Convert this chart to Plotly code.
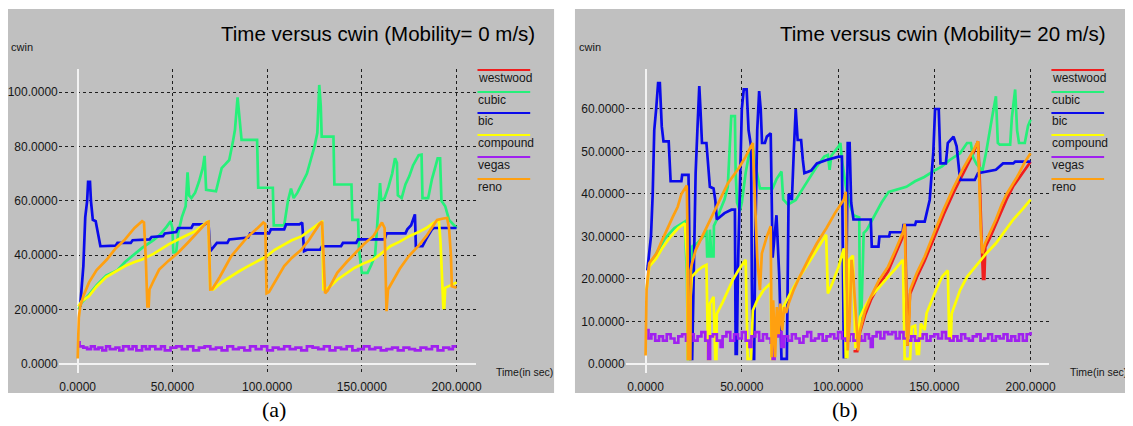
import plotly.graph_objects as go

# The page body has an 8px margin, so the figure is sized to fill the rest of the window
OFF = 8
FW, FH = 1133 - OFF, 426 - OFF

# ---------------- data (time [s], cwin) ----------------
SERIES_NAMES = ["westwood", "cubic", "bic", "compound", "vegas", "reno"]
SERIES_COLORS = ["#f01e1e", "#26f07a", "#0a0aeb", "#ffff00", "#a020f0", "#ffa010"]

A_X_TICKS = [0, 50, 100, 150, 200]
A_Y_TICKS = [0, 20, 40, 60, 80, 100]
B_X_TICKS = [0, 50, 100, 150, 200]
B_Y_TICKS = [0, 10, 20, 30, 40, 50, 60]

# Panel (a): Mobility = 0 m/s
a_cubic = [(0.5, 20), (2, 22.5), (6, 25.5), (10, 29), (15, 32.5), (21, 34.5), (25, 37.5), (30, 40.5),
           (34, 42.7), (40, 45.5), (43.5, 47.6), (47, 50.5), (49, 52.5), (50, 50), (50.5, 41), (52, 41),
           (53, 48), (55, 54), (57, 58), (58, 70.5), (58.8, 62), (60, 61), (62, 63), (64, 67), (66, 72),
           (67, 76.5), (67.8, 64), (73, 63.5), (74, 66), (76, 72), (78, 73.5), (80, 75), (82, 82), (83, 86),
           (84.4, 98), (85.5, 90), (86.5, 82.4), (94.7, 82.4), (95.3, 64.8), (103, 64.8), (103.5, 51),
           (109, 51), (110, 56), (111, 60), (112.6, 64.5), (114, 61), (116, 63), (118, 66), (121, 70),
           (123, 75), (125, 80), (126.5, 85), (127.5, 102.6), (128.3, 95), (128.8, 83.6), (135, 83.6),
           (135.5, 66), (144.5, 66), (145, 53), (148, 53), (148.5, 42), (150, 33.5), (153, 33.5),
           (155, 36.5), (157, 40), (158, 50), (158.8, 60), (159.6, 66.5), (160.2, 60), (162, 61),
           (164, 65), (166, 70), (167.5, 75.6), (168.5, 74), (169, 62), (171, 61), (173, 66), (175, 69),
           (177, 73), (180, 76.8), (181.5, 77), (182, 61), (185, 61), (187, 68), (189, 73), (190, 75.6),
           (191.3, 75.6), (192, 60), (194, 58), (196, 53), (200, 50)]
a_bic = [(1.3, 21), (3, 36), (4, 54), (5, 60), (5.5, 67), (6.5, 67), (7, 60), (8, 53), (9.5, 52.5),
         (11, 47), (12, 43.3), (20, 43.5), (21, 44.5), (28, 44.5), (29, 45.5), (38, 45.8), (39, 46.7),
         (45, 47), (46, 48), (52, 48.5), (53, 50), (60, 50), (61, 51.3), (67, 51.3), (69, 52), (70, 41.5),
         (72, 43), (73.5, 44.5), (79, 44.5), (80, 45.8), (90, 46.5), (91, 48), (101, 48), (102, 49.5),
         (109, 49.5), (110, 51.3), (117, 51.3), (118.5, 52), (119.5, 41.5), (121, 42), (128, 42),
         (129, 43.3), (139, 43.3), (140, 44.5), (147, 44.5), (148, 45.8), (162, 45.8), (163, 48),
         (173, 48), (174, 49.5), (176, 51), (178, 55), (178.5, 43.3), (182, 43.3), (184, 46),
         (187, 49.5), (188, 50), (200, 50)]
a_compound = [(0.4, 21.2), (2, 23), (6, 25), (10, 28.5), (15, 32), (20, 34), (25, 36), (30, 37.5),
              (34, 38.4), (40, 40.5), (43.5, 42), (48, 44), (53, 45.8), (58, 47.5), (62, 48.8), (66, 51),
              (68, 52), (69, 52.5), (70, 27.4), (71.6, 27.4), (76, 30), (81, 32.3), (85, 34), (90, 36),
              (95, 38), (99.7, 39.6), (104, 42), (109, 44), (113, 45.5), (118.4, 47), (123, 49.5),
              (128, 52), (129, 52.3), (129.7, 27.4), (131, 27.4), (134, 29), (137, 31), (141, 33),
              (146, 35.3), (151, 37), (156, 38.4), (160, 40.5), (165, 43.3), (170, 45), (175, 47),
              (180, 48.5), (184, 50), (188, 52), (190.6, 53), (191.5, 45), (192.5, 25), (193, 20.6),
              (193.5, 20.6), (194, 28), (197, 29), (200, 30)]
a_vegas = [(0.5, 8), (1, 6.5), (3, 6), (5, 5.5), (7, 6.5), (9, 5.5), (11, 6), (13, 5), (15, 6.5),
           (17, 5.5), (20, 6), (22, 5), (24, 6.5), (27, 5.5), (29, 6.5), (31, 5), (34, 6.5), (36, 5.5),
           (38, 6.5), (41, 5.5), (44, 6.5), (46, 5), (49, 6), (52, 6.5), (55, 5.5), (58, 6.5), (61, 5),
           (64, 6), (67, 6.5), (70, 5.5), (73, 6), (76, 5), (79, 6.5), (82, 5.5), (85, 6), (88, 5),
           (91, 6.5), (94, 5.5), (97, 6.5), (100, 5), (103, 6), (106, 5.5), (109, 6.5), (112, 5.5),
           (115, 6), (118, 5), (121, 6.5), (124, 6), (127, 5.5), (130, 6.5), (133, 5), (136, 6),
           (139, 5.5), (142, 6.5), (145, 5), (148, 5.5), (151, 6.5), (154, 5.5), (157, 6), (160, 5),
           (163, 5.5), (166, 6), (169, 5), (172, 6), (175, 5.5), (178, 5), (181, 6), (184, 5.5),
           (187, 6.5), (190, 5), (193, 6), (196, 5.5), (198, 6.5), (200, 6.5)]
a_reno = [(0, 2), (0.6, 17), (1.3, 21), (3, 25), (6, 30), (10, 34.5), (15.4, 38.4), (20, 42.5),
          (25, 45.8), (30, 50), (34, 52.5), (35, 52), (36, 38), (36.8, 21.2), (37.5, 21.2), (37.9, 27.4),
          (40, 30.5), (43, 34.7), (48, 38), (53, 40.9), (58, 44.5), (62, 47.6), (65, 50), (68, 52),
          (69, 52.3), (70, 27.4), (71, 27.5), (75, 32), (81, 39.6), (85, 43), (90, 47), (95, 50),
          (98, 52), (99, 51.5), (99.7, 26), (101, 26.5), (104, 30), (109, 36), (113, 39), (118, 42),
          (122, 45.5), (125, 48.5), (127.5, 51.3), (129, 52.3), (130.6, 26), (132, 27), (137, 33.5),
          (142, 37.5), (146.6, 41), (151, 44), (156, 47), (160.6, 52), (162, 50), (163, 19.4),
          (163.8, 27.4), (167, 31.5), (170, 35), (174.7, 39.6), (180, 43.5), (184, 47), (187, 50),
          (189.7, 53), (193, 53.5), (195, 53.7), (196, 50), (197, 40), (197.5, 28.6), (200, 28)]

# Panel (b): Mobility = 20 m/s
b_westwood = [(108, 3), (110, 3), (111.4, 7.5), (114, 11.5), (117, 15), (121, 18.5), (126, 21.8),
              (130, 26), (133.7, 30), (134.8, 32.8), (135.5, 12), (136, 4.3), (137.4, 16.5), (141, 20.5),
              (145, 24.3), (150, 29.8), (155, 35.3), (160, 40.3), (165, 45), (170, 49.3), (172.7, 52.4),
              (173.5, 45), (174.5, 30), (175.3, 20), (176, 20), (176.5, 27.5), (179, 29.8), (182, 33),
              (185, 36), (187.6, 38.8), (191, 41.8), (195, 44.5), (200, 47.6)]
b_cubic = [(0.9, 22.9), (3, 23.7), (5.6, 26), (10, 29.5), (15, 32), (20.4, 33.5), (21.5, 20), (22, 1.2),
           (23.2, 1.2), (24, 27.6), (27, 28.5), (30, 30), (31.6, 31.6), (32, 25.3), (33, 25.3),
           (33.4, 31.6), (34.2, 25.3), (35.3, 25.3), (35.5, 32.5), (37, 34), (39, 36.5), (41, 38.7),
           (42.7, 41.7), (43.6, 50), (44.5, 58.3), (46.4, 58.3), (46.8, 45), (47.5, 38), (49, 36),
           (50, 38), (52, 45), (54, 50), (55.7, 51.2), (57, 47), (59.4, 41.3), (66, 41.3), (68, 43.5),
           (70.6, 45.3), (71.5, 38.7), (74, 37.5), (78, 38.6), (82, 41.5), (85.4, 44), (89, 46.5),
           (92.8, 48.8), (94.7, 49.2), (95.6, 45.7), (96.5, 49), (100.3, 51.2), (101.2, 52), (102, 48),
           (104, 42), (105.8, 37.9), (108, 35), (111, 34.5), (111.4, 9.5), (112, 9.5), (113.3, 30.8),
           (115, 31.6), (118.8, 34.7), (122.6, 38), (126.3, 40.5), (130, 41), (135.5, 41.7), (140, 43),
           (144.8, 44), (150, 45.5), (154, 46.5), (158, 48), (163.4, 49.6), (167, 52), (169, 52),
           (170, 48.8), (172, 47), (175, 45.5), (177, 50), (180, 58), (182, 63), (183, 52), (184, 51.6),
           (189.4, 51.6), (190.3, 58), (192, 64.6), (193, 55), (194, 52), (197, 52), (198.7, 56),
           (200, 57.5)]
b_bic = [(0.9, 22), (2.8, 30), (3.7, 40), (4.5, 55), (5.5, 60), (6.5, 66.1), (7.4, 66.1), (8.4, 55.9),
         (9.3, 52.4), (12, 52.4), (13, 43), (18.6, 43), (19, 44.5), (22.3, 44.5), (23, 20), (23.2, 1.2),
         (24.2, 1.2), (25, 20), (26, 45), (27, 56), (27.9, 65.4), (28.5, 60), (29.3, 52), (31.6, 52),
         (33.4, 41.7), (35.3, 41.3), (36.2, 38.6), (37, 34), (41, 35.5), (44.6, 36.3), (46.4, 36.3),
         (46.8, 2.4), (47.4, 2.4), (48, 22.9), (49, 45), (50, 60), (51, 64.6), (52.5, 64.6), (53.5, 55),
         (54.8, 51.2), (55.2, 20), (55.7, 1.2), (56.4, 1.2), (57, 30), (58, 55), (59, 64.2), (59.8, 60),
         (60.5, 52), (62, 52), (63, 53.5), (65, 54.3), (66, 25), (68, 35), (69.5, 20), (70.6, 1.2),
         (73.4, 1.2), (74.3, 40), (76, 38.6), (77, 50), (78, 60), (79, 52.7), (80.8, 52.7), (81.7, 48),
         (82.5, 44.9), (86, 45.5), (89, 47.2), (94, 48), (100.3, 48.8), (102, 48.8), (103, 1.6),
         (104, 1.6), (105, 52), (106, 52), (106.8, 38), (108, 34), (117, 34), (117.5, 27.6), (121, 27.6),
         (121.5, 30), (126.5, 30), (127, 31), (133.5, 31), (134, 32.7), (140, 32.7), (140.5, 33.5),
         (145, 33.5), (147.6, 38.6), (149.5, 50), (150.4, 60), (152.3, 60), (153.2, 47.2), (156, 47.2),
         (157, 52), (160, 53.5), (161.6, 51.2), (163.4, 43.3), (171, 43.3), (172.7, 44.9), (182, 45.7),
         (185.7, 47.2), (191, 47.2), (192, 47.6), (200, 47.6)]
b_compound = [(0.5, 17.4), (1.9, 22.9), (5.6, 24.9), (9, 27.5), (13, 30), (17, 32), (20.4, 33.1),
              (21.5, 25), (22, 1.2), (23, 1.2), (23.2, 14.2), (24, 20.5), (27, 22), (29.7, 22.9),
              (31.6, 23.3), (32.5, 1.2), (33.2, 1.2), (33.4, 14.2), (35.3, 15.8), (36.2, 1.2), (36.8, 1.2),
              (37, 11.8), (40, 14.5), (42.7, 17.4), (45, 19.5), (48.3, 22.1), (52, 24.5), (53, 1.2),
              (54.8, 1.2), (55.7, 12.6), (58, 15), (61.3, 17.4), (65, 19), (65.5, 1.2), (66.5, 1.2),
              (67, 8), (68.7, 10.3), (70.6, 12.6), (75, 16.5), (80, 20.5), (85, 24), (89, 26.8),
              (93.8, 30.4), (94.7, 16.6), (97, 19), (100.3, 22.9), (103, 27.2), (104, 1.6), (104.8, 1.6),
              (105.8, 24.5), (107.7, 25.5), (109, 4), (110, 4), (111.4, 11), (114, 13.5), (117, 15.8),
              (121, 18), (126, 20.5), (130, 22.5), (133.7, 24.5), (134.6, 1.2), (137.4, 1.2), (138.3, 8.7),
              (140, 9), (141, 2.4), (142, 2.4), (143, 9.5), (145, 8), (146, 12), (148.6, 15), (151, 17.5),
              (154, 20.5), (157, 22), (157.8, 5.5), (158.6, 5.5), (159, 11.8), (163.4, 17.4), (167, 20.5),
              (172.7, 23.7), (177, 26), (182, 28.4), (186, 31), (191, 34), (196, 36.5), (200, 38.7)]
b_vegas = [(0.5, 8), (1.5, 6), (3, 7), (5, 5.5), (7, 6.5), (9, 5.5), (11, 7), (13, 6), (15, 5),
           (17, 6.5), (19, 7), (21, 5.5), (23, 7), (25, 5.5), (27, 6.5), (29, 7.5), (31, 5.5), (32.5, 1.2),
           (33.5, 6.5), (35, 7), (37, 5.5), (39, 4), (40, 6.5), (42, 7.5), (44, 5.5), (46, 7), (48, 6),
           (50, 7.5), (52, 5.5), (54, 4), (55, 6.5), (57, 7.5), (59, 5.5), (61, 7), (63, 6), (65, 5),
           (66, 1.2), (67, 6.5), (69, 7.5), (70.6, 4), (72, 6.5), (74, 5.5), (76, 7), (78, 6), (80, 5),
           (82, 6.5), (84, 7.5), (86, 5.5), (88, 6), (90, 7), (92, 5.5), (94, 6.5), (96, 7), (98, 6),
           (100, 7.5), (102, 6), (104, 5.5), (106, 7), (108, 5.5), (110, 6.5), (112, 5.5), (114, 7),
           (116, 6), (117, 4), (118, 6.5), (120, 7.5), (122, 6), (124, 7.5), (126, 7), (128, 7.5),
           (130, 6), (132, 7.5), (134, 6), (136, 5.5), (138, 6.5), (140, 5.5), (142, 6), (144, 7),
           (146, 5.5), (148, 6.5), (150, 7), (152, 6), (154, 7.5), (156, 6), (158, 5.5), (160, 6.5),
           (162, 5.5), (164, 7), (166, 6), (168, 5.5), (170, 6.5), (172, 7), (174, 5.5), (176, 6),
           (178, 7), (180, 5.5), (182, 6.5), (184, 6), (186, 7), (188, 5.5), (190, 6.5), (192, 5.5),
           (194, 7), (196, 5.5), (198, 7), (200, 7.5)]
b_reno = [(0, 2), (0.5, 17.4), (1.9, 23.7), (5.6, 26), (8, 28.5), (11, 31.6), (14, 34.5), (16.7, 37),
          (18.6, 40), (21.4, 42), (21.8, 30), (22, 1.2), (23.2, 1.2), (23.4, 22), (24, 23.5), (26, 26.8),
          (30, 30.5), (33.4, 34), (37, 37), (39, 39), (42.7, 42.5), (48.3, 46), (52, 48.8), (55.7, 52),
          (56.6, 40), (58, 25), (59.4, 17.4), (60.4, 26), (63, 30), (65, 32.4), (65.5, 1.6), (66.3, 15),
          (67.3, 1.6), (68.2, 13.4), (69.1, 7), (70, 14.2), (71, 7.9), (72, 13.4), (73, 12),
          (74.3, 14.2), (77, 17.5), (80, 20.5), (85, 25), (89, 28.4), (94, 32), (98.4, 35.5),
          (103, 38.7), (104, 40.5), (105, 3.2), (106, 10), (107, 24.5), (108, 20), (110.5, 3.2),
          (111.4, 7.9), (114, 12.5), (117, 15.8), (121, 19.5), (126, 22.9), (130, 27), (133.7, 31),
          (134.6, 33), (135.5, 15), (136, 4.3), (137, 10), (137.4, 17.4), (141, 21.5), (145, 25.3),
          (150, 31), (155, 36.5), (160, 41.5), (165, 46), (170, 50), (172.7, 52.4), (174.2, 30.8),
          (175, 26), (176.4, 28.4), (179, 31), (182, 34), (185, 37.5), (187.6, 40), (193, 44),
          (197, 47.5), (200, 49.6)]

PANEL_A = [None, a_cubic, a_bic, a_compound, a_vegas, a_reno]
PANEL_B = [b_westwood, b_cubic, b_bic, b_compound, b_vegas, b_reno]

TITLE_A = "Time versus cwin (Mobility= 0 m/s)"
TITLE_B = "Time versus cwin (Mobility= 20 m/s)"

# ---------------- figure ----------------
FONT = "Liberation Sans"
SERIF = "Liberation Serif"
GRAY = "#c0c0c0"
TXT = "#161616"


def px(x):
    """page pixel x -> paper fraction"""
    return (x - OFF) / FW


def py(y):
    """page pixel y -> paper fraction"""
    return 1 - (y - OFF) / FH


fig = go.Figure()

for panel, xa, ya in ((PANEL_A, "x", "y"), (PANEL_B, "x2", "y2")):
    for name, color, data in zip(SERIES_NAMES, SERIES_COLORS, panel):
        if data is None:
            continue
        t = [p[0] for p in data]
        v = [p[1] for p in data]
        fig.add_trace(go.Scatter(
            x=t, y=v, mode="lines", name=name, xaxis=xa, yaxis=ya,
            line=dict(color=color, width=2.7, shape="hv" if name == "vegas" else "linear"),
            showlegend=False, hoverinfo="skip"))

axis_common = dict(
    showgrid=True, gridcolor="#1e1e1e", griddash="dot", gridwidth=1,
    zeroline=True, zerolinecolor="#f2f2f2", zerolinewidth=2,
    showline=False, ticks="", tickformat=".4f",
    tickfont=dict(family=FONT, size=12, color=TXT), fixedrange=True,
)

ydom = [py(373), py(69)]
fig.update_layout(
    width=FW, height=FH, margin=dict(l=0, r=0, t=0, b=0),
    paper_bgcolor="white", plot_bgcolor=GRAY,
    xaxis=dict(domain=[px(59), px(479)], range=[-10, 210.5], tickvals=A_X_TICKS, anchor="y",
               ticklabelstandoff=5, **axis_common),
    yaxis=dict(domain=ydom, range=[-3.31, 108.46], tickvals=A_Y_TICKS, anchor="x", **axis_common),
    xaxis2=dict(domain=[px(629), px(1055)], range=[-10.34, 209.8], tickvals=B_X_TICKS, anchor="y2",
                ticklabelstandoff=5, **axis_common),
    yaxis2=dict(domain=ydom, range=[-2.12, 69.41], tickvals=B_Y_TICKS, anchor="x2", **axis_common),
)

shapes = []
annotations = []
LEG_Y = [70, 92, 113, 135, 157, 179]

for (gx0, gx1, leg_x0, leg_x1, title, title_right, cwin_x, time_x, lab, lab_x) in (
        (8, 557, 480, 533, TITLE_A, 540, 9, 497, "(a)", 275),
        (578, 1131, 1057, 1110, TITLE_B, 1114, 580, 1074, "(b)", 849)):
    shapes.append(dict(type="rect", xref="paper", yref="paper", x0=px(gx0), x1=px(gx1),
                       y0=py(393), y1=py(9), fillcolor=GRAY, line=dict(width=0), layer="below"))
    for name, color, ly in zip(SERIES_NAMES, SERIES_COLORS, LEG_Y):
        shapes.append(dict(type="line", xref="paper", yref="paper", x0=px(leg_x0), x1=px(leg_x1),
                           y0=py(ly), y1=py(ly), line=dict(color=color, width=2), layer="above"))
        annotations.append(dict(text=name, xref="paper", yref="paper", x=px(leg_x0 - 1), y=py(ly + 8),
                                xanchor="left", yanchor="middle", showarrow=False,
                                font=dict(family=FONT, size=12, color=TXT)))
    annotations.append(dict(text=title, xref="paper", yref="paper", x=px(title_right), y=py(33),
                            xanchor="right", yanchor="middle", showarrow=False,
                            font=dict(family=FONT, size=20.5, color="black")))
    annotations.append(dict(text="cwin", xref="paper", yref="paper", x=px(cwin_x), y=py(47),
                            xanchor="left", yanchor="middle", showarrow=False,
                            font=dict(family=FONT, size=11, color=TXT)))
    annotations.append(dict(text="Time(in sec)", xref="paper", yref="paper", x=px(time_x), y=py(372),
                            xanchor="left", yanchor="middle", showarrow=False,
                            font=dict(family=FONT, size=10.5, color=TXT)))
    annotations.append(dict(text=lab, xref="paper", yref="paper", x=px(lab_x), y=py(409),
                            xanchor="center", yanchor="middle", showarrow=False,
                            font=dict(family=SERIF, size=22, color="black")))

fig.update_layout(shapes=shapes, annotations=annotations)

fig.write_html("out.html")
